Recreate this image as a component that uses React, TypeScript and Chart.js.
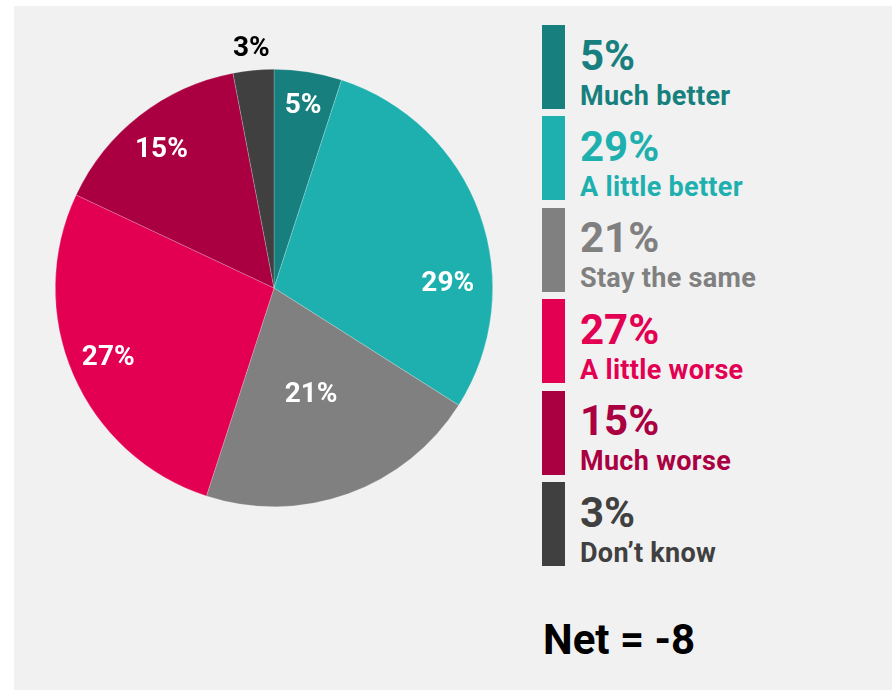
import React, { useEffect, useRef } from "react";
import { Chart, registerables } from "chart.js";

Chart.register(...registerables);

const categories = ["Much better", "A little better", "Stay the same", "A little worse", "Much worse", "Don\u2019t know"];
const values = [5, 29, 21, 27, 15, 3];
const colors = ["#17807e", "#1eb0af", "#808080", "#e30052", "#aa0042", "#404040"];
const labelColors = ["#ffffff", "#ffffff", "#ffffff", "#ffffff", "#ffffff", "#000000"];
// position of each slice label: fraction along the slice angle, fraction of the radius
const labelAngleFrac = [0.5, 0.67, 0.505, 0.51, 0.48, 0.5];
const labelRadiusFrac = [0.85, 0.795, 0.51, 0.82, 0.82, 1.105];
const netLabel = "Net = -8";

const FONT = "Roboto, 'Noto Sans', sans-serif";

const sliceLabels = {
  id: "sliceLabels",
  afterDatasetsDraw(chart: any) {
    const ctx = chart.ctx;
    const meta = chart.getDatasetMeta(0);
    ctx.save();
    ctx.font = `700 28px ${FONT}`;
    ctx.textAlign = "center";
    ctx.textBaseline = "middle";
    meta.data.forEach((arc: any, i: number) => {
      const { x, y, startAngle, endAngle, outerRadius } = arc.getProps(
        ["x", "y", "startAngle", "endAngle", "outerRadius"],
        true
      );
      const a = startAngle + labelAngleFrac[i] * (endAngle - startAngle);
      const r = labelRadiusFrac[i] * outerRadius;
      ctx.fillStyle = labelColors[i];
      ctx.fillText(`${values[i]}%`, x + Math.cos(a) * r, y + Math.sin(a) * r + 2);
    });
    ctx.restore();
  },
};

export default function App() {
  const canvasRef = useRef<HTMLCanvasElement | null>(null);

  useEffect(() => {
    if (!canvasRef.current) return;
    const chart = new Chart(canvasRef.current, {
      type: "pie",
      data: {
        labels: categories,
        datasets: [
          {
            data: values,
            backgroundColor: colors,
            borderColor: "rgba(255,255,255,0.35)",
            borderWidth: 0.6,
          },
        ],
      },
      options: {
        animation: false,
        responsive: false,
        maintainAspectRatio: false,
        layout: { padding: { left: 41, right: 41, top: 63, bottom: 183 } },
        plugins: {
          legend: { display: false },
          tooltip: { enabled: false },
        },
      },
      plugins: [sliceLabels],
    });
    return () => chart.destroy();
  }, []);

  const pitch = 91.4;
  return (
    <div style={{ position: "absolute", left: 0, top: 0, width: 892, height: 690, background: "#ffffff", overflow: "hidden", fontFamily: FONT }}>
      <div style={{ position: "absolute", left: 14, top: 6, width: 878, height: 684, background: "#f1f1f1" }} />
      <canvas ref={canvasRef} width={520} height={684} style={{ position: "absolute", left: 14, top: 6, width: 520, height: 684 }} />
      {categories.map((c, i) => {
        const top = 25 + i * pitch;
        return (
          <React.Fragment key={c}>
            <div style={{ position: "absolute", left: 542, top, width: 23, height: 84, background: colors[i] }} />
            <div style={{ position: "absolute", left: 580, top: top + 9.5, fontSize: 42, lineHeight: 1, fontWeight: 700, color: colors[i], whiteSpace: "nowrap" }}>
              {values[i]}%
            </div>
            <div style={{ position: "absolute", left: 580, top: top + 57.5, fontSize: 27, lineHeight: 1, fontWeight: 700, color: colors[i], whiteSpace: "nowrap", letterSpacing: 0.3 }}>
              {c}
            </div>
          </React.Fragment>
        );
      })}
      <div style={{ position: "absolute", left: 543, top: 619, fontSize: 42, lineHeight: 1, fontWeight: 700, color: "#000", whiteSpace: "nowrap" }}>
        {netLabel}
      </div>
    </div>
  );
}
